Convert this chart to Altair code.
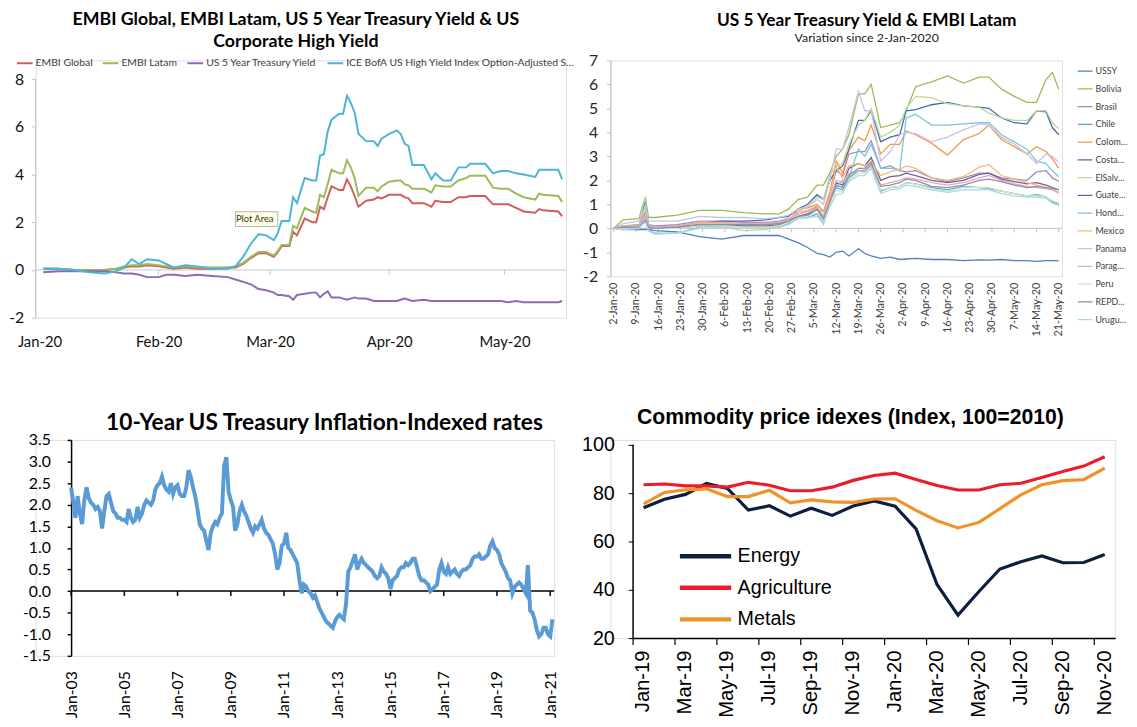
import altair as alt
import pandas as pd

DAY = 86400000


def ms(d):
    return int(pd.Timestamp(d).value // 1000000)


NO_MINUS = "replace(datum.label, '\u2212', '-')"

# ---------------- Panel 1 : EMBI / UST / HY ----------------
p1_series = ["EMBI Global", "EMBI Latam", "US 5 Year Treasury Yield",
             "ICE BofA US High Yield Index Option-Adjusted Spread"]
p1_colors = ["#d25e58", "#9bbb59", "#8c6bb8", "#4bb5d3"]
p1_days = [1, 5, 9, 13, 17, 20, 22, 24, 26, 28, 31, 33, 35, 38, 41, 45, 49, 51, 53, 55,
           57, 59, 61, 62, 63, 65, 66, 67, 69, 71, 72, 73, 74, 75, 76, 78, 79, 80, 81, 82,
           83, 85, 87, 88, 89, 91, 93, 94, 95, 96, 97, 100, 102, 103, 105, 107, 109, 111, 112, 116,
           118, 120, 122, 124, 126, 129, 130, 131, 135, 136]
p1_embi_global = [0.05, 0.05, 0.0, 0.0, 0.0, 0.05, 0.1, 0.15, 0.15, 0.2,
                  0.15, 0.1, 0.05, 0.1, 0.05, 0.05, 0.1, 0.1, 0.25, 0.5,
                  0.7, 0.7, 0.55, 0.75, 1.0, 1.0, 1.6, 1.45, 2.15, 2.0,
                  2.0, 2.65, 2.55, 3.05, 3.5, 3.35, 3.35, 3.8, 3.5, 3.1,
                  2.65, 2.9, 2.95, 3.05, 3.0, 3.15, 3.15, 3.15, 3.05, 3.0,
                  2.8, 2.8, 2.65, 2.9, 2.85, 2.85, 3.05, 3.05, 3.1, 3.1,
                  2.75, 2.75, 2.75, 2.6, 2.45, 2.4, 2.55, 2.5, 2.45, 2.25]
p1_embi_latam = [0.05, 0.05, 0.0, 0.0, 0.0, 0.05, 0.15, 0.2, 0.2, 0.25,
                 0.2, 0.15, 0.1, 0.15, 0.1, 0.1, 0.1, 0.15, 0.3, 0.55,
                 0.75, 0.75, 0.6, 0.8, 1.05, 1.05, 1.85, 1.75, 2.6, 2.45,
                 2.4, 3.15, 3.05, 3.6, 4.2, 4.05, 4.05, 4.6, 4.3, 3.85,
                 3.1, 3.45, 3.45, 3.3, 3.5, 3.7, 3.75, 3.75, 3.6, 3.55,
                 3.4, 3.4, 3.25, 3.55, 3.5, 3.5, 3.75, 3.85, 3.95, 3.95,
                 3.45, 3.4, 3.4, 3.2, 3.05, 2.95, 3.2, 3.15, 3.1, 2.85]
p1_us5y = [-0.1, -0.05, -0.05, -0.05, -0.05, -0.1, -0.15, -0.15, -0.2, -0.3,
           -0.3, -0.2, -0.2, -0.25, -0.2, -0.25, -0.3, -0.4, -0.5, -0.6,
           -0.8, -0.85, -0.95, -1.05, -1.05, -1.1, -1.25, -1.05, -1.0, -0.95,
           -0.95, -1.15, -1.0, -0.9, -1.15, -1.15, -1.2, -1.25, -1.2, -1.15,
           -1.2, -1.2, -1.3, -1.3, -1.3, -1.3, -1.3, -1.25, -1.2, -1.25,
           -1.3, -1.25, -1.3, -1.3, -1.3, -1.3, -1.3, -1.3, -1.3, -1.3,
           -1.3, -1.3, -1.35, -1.3, -1.35, -1.35, -1.35, -1.35, -1.35, -1.3]
p1_hy = [0.05, 0.05, 0.0, -0.1, -0.15, -0.05, 0.1, 0.45, 0.25, 0.45,
         0.4, 0.25, 0.1, 0.2, 0.15, 0.05, 0.05, 0.15, 0.55, 1.1,
         1.5, 1.45, 1.25, 1.55, 2.05, 2.05, 3.05, 2.8, 3.85, 3.75,
         3.75, 4.8, 4.85, 5.8, 6.3, 6.55, 6.55, 7.3, 7.0, 6.6,
         5.7, 5.4, 5.4, 5.2, 5.5, 5.7, 5.85, 5.7, 5.3, 5.2,
         4.4, 4.4, 3.8, 4.05, 3.75, 3.75, 4.3, 4.3, 4.45, 4.45,
         4.05, 4.15, 4.15, 4.05, 4.0, 3.9, 4.2, 4.2, 4.2, 3.8]
p1_label_dates = ["2020-01-01", "2020-02-01", "2020-03-01", "2020-04-01", "2020-05-01"]
p1_tick_dates = ["2020-02-01", "2020-03-01", "2020-04-01", "2020-05-01"]
p1_y_ticks = [-2, 0, 2, 4, 6, 8]
p1_note_text = "Plot Area"
p1_note_dates = ["2020-02-21", "2020-03-03", "2020-02-26"]
p1_note_vals = [1.82, 2.44, 2.13]

# ---------------- Panel 2 : EMBI Latam countries ----------------
p2_names = ["USSY", "Bolivia", "Brasil", "Chile", "Colombia", "CostaRica", "ElSalvador",
            "Guatemala", "Honduras", "Mexico", "Panama", "Paraguay", "Peru", "REPDOM", "Uruguay"]
p2_colors = ["#4f81bd", "#9bbb59", "#9b8ec2", "#4bacc6", "#f79646", "#3f6fae", "#c3d69b",
             "#7a5c94", "#7cc6dc", "#f9b77a", "#c9c3e3", "#e6a9b4", "#d7e4bd", "#8d8fae", "#a8d8e8"]
p2_days = [0, 3, 8, 9, 10, 11, 13, 20, 27, 34, 41, 48, 52, 55, 58, 61, 64, 66, 68, 70,
           72, 74, 77, 79, 81, 84, 87, 90, 92, 95, 100, 105, 110, 115, 118, 122, 126, 130, 133, 136,
           138, 140]
p2_ussy = [0, -0.05, -0.05, -0.05, -0.05, -0.05, -0.1, -0.15, -0.35, -0.45, -0.3, -0.3, -0.3, -0.45,
           -0.6, -0.8, -1.05, -1.1, -1.2, -1.0, -0.95, -1.15, -0.85, -1.05, -1.15, -1.25, -1.2, -1.3,
           -1.28, -1.25, -1.3, -1.3, -1.35, -1.32, -1.33, -1.3, -1.35, -1.35, -1.38, -1.35, -1.35, -1.36]
p2_bolivia = [0, 0.35, 0.4, 0.9, 1.25, 0.45, 0.45, 0.55, 0.75, 0.75, 0.65, 0.6, 0.6, 0.8, 1.2, 1.3,
              1.8, 1.8, 2.3, 3.0, 3.3, 3.9, 5.6, 5.6, 6.0, 4.2, 4.3, 4.4, 4.9, 5.9, 6.1, 6.35, 6.05,
              6.3, 6.3, 5.8, 5.5, 5.25, 5.25, 6.2, 6.5, 5.8]
p2_brasil = [0, 0.1, 0.15, 0.4, 0.6, 0.15, 0.1, 0.15, 0.3, 0.3, 0.25, 0.25, 0.3, 0.4, 0.6, 0.7, 0.9,
             0.2, 1.4, 2.4, 2.2, 3.1, 3.2, 3.2, 3.65, 2.5, 2.6, 2.4, 2.35, 2.4, 2.1, 1.95, 2.1, 2.3,
             2.3, 2.1, 2.05, 2.0, 2.35, 2.4, 2.1, 1.95]
p2_chile = [0, 0.0, 0.0, 0.7, 1.3, 0.05, 0.0, 0.0, 0.1, 0.15, 0.1, 0.05, 0.05, 0.2, 0.45, 0.45, 0.6,
            0.25, 1.05, 1.7, 1.6, 2.1, 2.4, 2.4, 2.65, 1.55, 1.7, 1.75, 1.9, 1.85, 1.7, 1.6, 1.75,
            1.7, 1.65, 1.55, 1.45, 1.35, 1.4, 1.3, 1.1, 1.0]
p2_colombia = [0, 0.05, 0.05, 0.4, 0.7, 0.05, 0.0, 0.05, 0.15, 0.15, 0.1, 0.1, 0.15, 0.3, 0.8, 0.85,
               1.0, 0.7, 1.5, 2.8, 2.3, 3.25, 3.8, 3.65, 4.3, 3.1, 3.5, 3.5, 4.05, 3.9, 3.55, 3.05,
               3.7, 3.95, 4.3, 3.7, 3.4, 3.1, 3.4, 3.2, 2.9, 2.5]
p2_costarica = [0, 0.05, 0.05, 0.6, 1.2, 0.1, 0.05, 0.1, 0.2, 0.3, 0.3, 0.35, 0.45, 0.5, 0.8, 1.0,
                1.4, 1.2, 2.0, 2.4, 2.6, 3.3, 4.5, 4.5, 4.9, 3.6, 3.8, 3.9, 4.9, 4.95, 5.15, 5.25,
                5.1, 5.05, 5.0, 4.6, 4.4, 4.35, 4.9, 4.85, 4.2, 3.9]
p2_elsalvador = [0, 0.1, 0.05, 0.8, 1.3, 0.1, 0.0, 0.05, 0.1, 0.05, -0.1, -0.05, 0.1, 0.3, 0.7, 0.9,
                 1.3, 1.2, 2.2, 2.6, 2.7, 3.5, 4.3, 4.5, 5.0, 3.8, 4.0, 4.3, 5.0, 5.5, 5.45, 5.2,
                 5.1, 5.05, 4.8, 4.6, 4.5, 4.5, 4.9, 4.9, 4.4, 4.15]
p2_guatemala = [0, 0.05, 0.05, 0.3, 0.5, 0.05, 0.0, 0.05, 0.15, 0.2, 0.1, 0.1, 0.15, 0.3, 0.5, 0.6,
                0.8, 0.5, 1.2, 1.9, 1.8, 2.5, 2.7, 2.6, 2.95, 2.0, 2.15, 2.2, 2.3, 2.2, 2.0, 1.9,
                2.0, 2.25, 2.3, 2.05, 1.95, 1.85, 1.9, 1.8, 1.7, 1.6]
p2_honduras = [0, -0.05, 0.0, 0.5, 1.0, -0.1, -0.2, -0.2, 0.05, 0.1, 0.05, 0.05, 0.05, 0.2, 0.4, 0.5,
               0.8, 0.7, 1.2, 1.7, 2.0, 2.1, 3.3, 3.0, 3.5, 2.5, 2.5, 2.45, 4.6, 4.75, 4.3, 4.3,
               4.35, 4.4, 4.4, 3.9, 3.6, 3.3, 2.8, 2.7, 2.4, 2.15]
p2_mexico = [0, 0.1, 0.1, 0.3, 0.5, 0.1, 0.05, 0.1, 0.2, 0.2, 0.15, 0.15, 0.2, 0.35, 0.7, 0.75, 0.95,
             0.5, 1.3, 2.6, 2.1, 2.6, 2.7, 2.6, 2.8, 2.2, 2.35, 2.45, 2.6, 2.5, 2.1, 2.0, 2.15, 2.55,
             2.65, 2.2, 2.05, 1.9, 1.8, 1.7, 1.6, 1.45]
p2_panama = [0, 0.2, 0.3, 0.6, 0.9, 0.3, 0.3, 0.3, 0.5, 0.45, 0.45, 0.4, 0.45, 0.55, 0.8, 0.9, 1.2,
             1.0, 2.0, 3.3, 3.3, 4.2, 5.7, 4.9, 4.9, 2.8, 3.2, 3.9, 4.0, 3.95, 3.6, 3.8, 4.1, 4.35,
             4.3, 3.8, 3.5, 3.1, 2.7, 3.1, 3.0, 2.75]
p2_paraguay = [0, 0.1, 0.1, 0.35, 0.55, 0.1, 0.05, 0.1, 0.25, 0.25, 0.2, 0.2, 0.25, 0.35, 0.6, 0.7,
               0.85, 0.4, 1.2, 2.0, 1.9, 2.3, 2.4, 2.35, 2.6, 1.8, 1.9, 2.0, 2.1, 2.05, 1.9, 1.8,
               1.9, 2.1, 2.2, 2.0, 1.85, 1.75, 1.7, 1.65, 1.6, 1.5]
p2_peru = [0, 0.0, 0.05, 0.2, 0.3, 0.05, 0.0, 0.0, 0.1, 0.1, 0.05, 0.05, 0.1, 0.25, 0.45, 0.5, 0.65,
           0.3, 1.0, 1.6, 1.5, 2.0, 2.3, 2.3, 2.5, 1.6, 1.7, 1.75, 1.9, 1.85, 1.65, 1.55, 1.7, 1.7,
           1.7, 1.55, 1.45, 1.35, 1.35, 1.3, 1.15, 1.05]
p2_repdom = [0, 0.05, 0.05, 0.2, 0.35, 0.05, 0.0, 0.05, 0.15, 0.15, 0.15, 0.15, 0.2, 0.3, 0.5, 0.55,
             0.8, 0.4, 1.1, 1.8, 1.7, 2.2, 2.5, 2.5, 2.75, 1.75, 1.8, 1.9, 2.05, 2.0, 1.75, 1.7,
             1.8, 2.0, 2.05, 1.95, 1.8, 1.7, 1.75, 1.7, 1.65, 1.6]
p2_uruguay = [0, -0.05, 0.0, 0.15, 0.25, -0.1, -0.25, -0.2, 0.0, 0.05, 0.0, 0.0, 0.05, 0.15, 0.4,
              0.45, 0.5, 0.2, 0.9, 1.4, 1.45, 1.95, 2.2, 2.2, 2.5, 1.45, 1.6, 1.65, 1.8, 1.75, 1.6,
              1.5, 1.6, 1.6, 1.6, 1.45, 1.35, 1.3, 1.3, 1.25, 1.05, 0.95]
p2_week_labels = ["2020-01-02", "2020-01-09", "2020-01-16", "2020-01-23", "2020-01-30",
                  "2020-02-06", "2020-02-13", "2020-02-20", "2020-02-27", "2020-03-05",
                  "2020-03-12", "2020-03-19", "2020-03-26", "2020-04-02", "2020-04-09",
                  "2020-04-16", "2020-04-23", "2020-04-30", "2020-05-07", "2020-05-14",
                  "2020-05-21"]
p2_y_ticks = [-2, -1, 0, 1, 2, 3, 4, 5, 6, 7]

# ---------------- Panel 3 : 10y TIPS (monthly, Jan-2003 .. Feb-2021) ----------------
p3_rates = [
    2.40, 2.05, 1.70, 2.20, 1.80, 1.55, 2.10, 2.40, 2.15, 2.05, 2.00, 1.90,   # 2003
    1.95, 1.85, 1.45, 1.85, 2.20, 2.25, 2.05, 1.85, 1.80, 1.70, 1.70, 1.65,   # 2004
    1.65, 1.60, 1.90, 1.70, 1.60, 1.65, 1.95, 1.70, 1.80, 2.00, 2.10, 2.05,   # 2005
    2.00, 2.10, 2.35, 2.45, 2.50, 2.65, 2.45, 2.35, 2.30, 2.50, 2.25, 2.40,   # 2006
    2.45, 2.25, 2.20, 2.20, 2.40, 2.80, 2.65, 2.40, 2.20, 1.90, 1.55, 1.45,   # 2007
    1.40, 1.15, 0.95, 1.35, 1.50, 1.60, 1.55, 1.70, 1.80, 2.90, 3.10, 2.30,   # 2008
    2.10, 1.95, 1.40, 1.55, 1.85, 2.00, 1.85, 1.75, 1.60, 1.45, 1.35, 1.50,   # 2009
    1.45, 1.55, 1.65, 1.45, 1.35, 1.30, 1.20, 1.10, 0.85, 0.50, 0.65, 1.05,   # 2010
    1.10, 1.35, 1.00, 0.95, 0.85, 0.75, 0.65, 0.25, -0.05, 0.15, 0.10, 0.00,  # 2011
    -0.05, -0.15, -0.10, -0.25, -0.40, -0.50, -0.60, -0.70, -0.75, -0.80, -0.85, -0.70,  # 2012
    -0.60, -0.55, -0.60, -0.65, -0.30, 0.45, 0.55, 0.70, 0.85, 0.50, 0.65, 0.75,  # 2013
    0.65, 0.60, 0.55, 0.50, 0.45, 0.35, 0.30, 0.35, 0.55, 0.45, 0.40, 0.30,   # 2014
    0.05, 0.25, 0.30, 0.35, 0.50, 0.55, 0.55, 0.65, 0.60, 0.65, 0.75, 0.75,   # 2015
    0.55, 0.35, 0.25, 0.25, 0.20, 0.15, 0.00, 0.05, 0.10, 0.15, 0.50, 0.65,   # 2016
    0.45, 0.40, 0.55, 0.40, 0.45, 0.50, 0.40, 0.35, 0.45, 0.50, 0.50, 0.55,   # 2017
    0.60, 0.75, 0.80, 0.80, 0.85, 0.75, 0.75, 0.80, 0.85, 1.05, 1.15, 1.00,   # 2018
    0.95, 0.85, 0.65, 0.55, 0.45, 0.30, 0.25, -0.05, 0.10, 0.15, 0.20, 0.15,  # 2019
    0.05, -0.05, 0.60, -0.45, -0.50, -0.65, -0.90, -1.05, -1.00, -0.85, -0.85, -1.00,  # 2020
    -1.05, -0.65,  # 2021
]
p3_first_month = "2003-01-01"
p3_label_dates = ["2003-01-01", "2005-01-01", "2007-01-01", "2009-01-01", "2011-01-01",
                  "2013-01-01", "2015-01-01", "2017-01-01", "2019-01-01", "2021-01-01"]
p3_y_ticks = [-1.5, -1.0, -0.5, 0.0, 0.5, 1.0, 1.5, 2.0, 2.5, 3.0, 3.5]

# ---------------- Panel 4 : Commodity price indexes ----------------
p4_months = ["Jan-19", "Feb-19", "Mar-19", "Apr-19", "May-19", "Jun-19", "Jul-19", "Aug-19",
             "Sep-19", "Oct-19", "Nov-19", "Dec-19", "Jan-20", "Feb-20", "Mar-20", "Apr-20",
             "May-20", "Jun-20", "Jul-20", "Aug-20", "Sep-20", "Oct-20", "Nov-20"]
p4_energy = [74.0, 77.5, 79.5, 84.0, 82.0, 73.0, 74.8, 70.5, 73.8, 70.8, 74.7, 76.8, 74.6, 65.2,
             42.2, 29.5, 39.3, 48.6, 51.6, 54.0, 51.2, 51.3, 54.6]
p4_agriculture = [83.5, 83.8, 83.0, 83.0, 82.5, 84.5, 83.3, 81.0, 81.0, 82.5, 85.3, 87.3, 88.3,
                  85.7, 83.2, 81.3, 81.3, 83.5, 84.1, 86.5, 89.0, 91.2, 95.1]
p4_metals = [75.6, 80.3, 81.4, 81.8, 78.6, 78.6, 81.2, 76.0, 77.2, 76.4, 76.2, 77.6, 77.7, 72.9,
             68.6, 65.6, 67.9, 73.6, 79.3, 83.5, 85.2, 85.6, 90.4]
p4_names = ["Energy", "Agriculture", "Metals"]
p4_colors = ["#0c1f3d", "#ec1c2b", "#f0922a"]
p4_y_ticks = [20, 40, 60, 80, 100]

# ======================= build panel 1 =======================
p1_start = ms("2020-01-01")
rows = []
for name, vals in zip(p1_series, [p1_embi_global, p1_embi_latam, p1_us5y, p1_hy]):
    for d, v in zip(p1_days, vals):
        rows.append({"t": p1_start + d * DAY, "v": v, "s": name})
df1 = pd.DataFrame(rows)

X1 = alt.X("t:T", scale=alt.Scale(type="utc", domain=[ms("2019-12-31"), ms("2020-05-17")]),
           axis=alt.Axis(values=[ms(d) for d in p1_label_dates], format="%b-%y", labelAngle=0,
                         labelFlush=False, labelOverlap=False, domain=False, ticks=False, grid=False,
                         labelPadding=17, labelFont="Lato", labelFontSize=15, labelColor="#111111",
                         title=None))
Y1 = alt.Y("v:Q", scale=alt.Scale(domain=[-2, 8.785], nice=False, zero=False),
           axis=alt.Axis(values=p1_y_ticks, labelExpr=NO_MINUS, domain=False, ticks=True,
                         tickColor="#bfbfbf", tickSize=4, grid=False, labelPadding=8,
                         labelFont="Lato", labelFontSize=16, labelColor="#111111", title=None))
C1 = alt.Color("s:N", scale=alt.Scale(domain=p1_series, range=p1_colors),
               legend=alt.Legend(orient="none", legendX=-20, legendY=-3, direction="horizontal",
                                 columns=4, symbolType="stroke", symbolSize=256, symbolStrokeWidth=2,
                                 clipHeight=12, labelFont="Lato", labelFontSize=10.5,
                                 labelColor="#404040", columnPadding=9, labelOffset=2,
                                 labelLimit=236, padding=0, title=None))

p1_zero = alt.Chart(pd.DataFrame({"t": [ms("2019-12-31")], "t2": [ms("2020-05-17")], "v": [0]})
                    ).mark_rule(color="#c8c8c8").encode(x=X1, x2="t2:T", y=Y1)
p1_axis = alt.Chart(pd.DataFrame({"t": [ms("2019-12-31")], "v": [-2], "v2": [8]})
                    ).mark_rule(color="#c8c8c8").encode(x=X1, y=Y1, y2="v2:Q")
p1_ticks = alt.Chart(pd.DataFrame({"t": [ms(d) for d in p1_tick_dates], "v": [0] * len(p1_tick_dates)})
                     ).mark_rule(color="#c8c8c8", y2Offset=5).encode(x=X1, y=Y1, y2="v:Q")
p1_lines = alt.Chart(df1).mark_line(strokeWidth=2).encode(x=X1, y=Y1, color=C1)
p1_box = alt.Chart(pd.DataFrame({"t": [ms(p1_note_dates[0])], "t2": [ms(p1_note_dates[1])],
                                 "v": [p1_note_vals[0]], "v2": [p1_note_vals[1]]})
                   ).mark_rect(fill="#ffffe1", stroke="#a0a0a0", strokeWidth=0.8
                               ).encode(x=X1, x2="t2:T", y=Y1, y2="v2:Q")
p1_txt = alt.Chart(pd.DataFrame({"t": [ms(p1_note_dates[2])], "v": [p1_note_vals[2]],
                                 "lab": [p1_note_text]})
                   ).mark_text(font="Lato", fontSize=9.5, color="#333333").encode(x=X1, y=Y1, text="lab:N")

p1 = alt.layer(p1_zero, p1_axis, p1_ticks, p1_lines, p1_box, p1_txt).properties(
    width=538, height=261,
    title=alt.TitleParams(["EMBI Global, EMBI Latam, US 5 Year Treasury Yield & US", "Corporate High Yield"],
                          font="Lato", fontSize=18, fontWeight="bold", lineHeight=22, color="#000000",
                          anchor="middle", frame="group", dx=-5, offset=7))

# ======================= build panel 2 =======================
p2_start = ms("2020-01-02")
rows = []
p2_vals = [p2_ussy, p2_bolivia, p2_brasil, p2_chile, p2_colombia, p2_costarica, p2_elsalvador,
           p2_guatemala, p2_honduras, p2_mexico, p2_panama, p2_paraguay, p2_peru, p2_repdom, p2_uruguay]
for name, vals in zip(p2_names, p2_vals):
    for d, v in zip(p2_days, vals):
        rows.append({"t": p2_start + d * DAY, "v": v, "s": name})
df2 = pd.DataFrame(rows)

X2 = alt.X("t:T", scale=alt.Scale(type="utc", domain=[ms("2020-01-01"), ms("2020-05-22")]),
           axis=alt.Axis(values=[ms(d) for d in p2_week_labels], format="%-d-%b-%y", labelAngle=270,
                         labelFlush=False, labelOverlap=False, domain=False, ticks=False, grid=False,
                         labelPadding=6, labelFont="Lato", labelFontSize=11, labelColor="#404040",
                         title=None))
Y2 = alt.Y("v:Q", scale=alt.Scale(domain=[-2, 7], nice=False, zero=False),
           axis=alt.Axis(values=p2_y_ticks, labelExpr=NO_MINUS, domain=True, domainColor="#bfbfbf",
                         ticks=True, tickColor="#bfbfbf", tickSize=4, grid=False, labelPadding=9,
                         labelFont="Lato", labelFontSize=16, labelColor="#262626", title=None))
C2 = alt.Color("s:N", scale=alt.Scale(domain=p2_names, range=p2_colors),
               legend=alt.Legend(orient="none", legendX=473, legendY=2, direction="vertical",
                                 symbolType="stroke", symbolSize=225, symbolStrokeWidth=1.3,
                                 clipHeight=17.9, rowPadding=0, labelFont="Lato", labelFontSize=9,
                                 labelColor="#404040", labelOffset=2, labelLimit=33, padding=0,
                                 title=None))

p2_zero = alt.Chart(pd.DataFrame({"t": [ms("2020-01-01")], "t2": [ms("2020-05-22")], "v": [0]})
                    ).mark_rule(color="#bfbfbf").encode(x=X2, x2="t2:T", y=Y2)
p2_ticks = alt.Chart(pd.DataFrame({"t": [ms(d) for d in p2_week_labels], "v": [0] * len(p2_week_labels)})
                     ).mark_rule(color="#bfbfbf", y2Offset=4).encode(x=X2, y=Y2, y2="v:Q")
p2_lines = alt.Chart(df2).mark_line(strokeWidth=1.3).encode(x=X2, y=Y2, color=C2)

p2 = alt.layer(p2_zero, p2_ticks, p2_lines).properties(
    width=458, height=219,
    title=alt.TitleParams("US 5 Year Treasury Yield & EMBI Latam", subtitle="Variation since 2-Jan-2020",
                          font="Lato", fontSize=17.5, fontWeight="bold", color="#000000",
                          subtitleFont="Lato", subtitleFontSize=12.5, subtitleColor="#222222",
                          subtitlePadding=3, anchor="middle", frame="group", dx=31, offset=8))

# ======================= build panel 3 =======================
p3_dates = pd.date_range(p3_first_month, periods=len(p3_rates), freq="MS")
df3 = pd.DataFrame({"t": [ms(d) for d in p3_dates], "v": p3_rates})

X3 = alt.X("t:T", scale=alt.Scale(type="utc", domain=[ms("2001-09-01"), ms("2021-02-25")]),
           axis=alt.Axis(values=[ms(d) for d in p3_label_dates], format="%b-%y", labelAngle=270,
                         labelFlush=False, labelOverlap=False, domain=False, ticks=False, grid=False,
                         labelPadding=15, labelFont="Lato", labelFontSize=16, labelColor="#000000",
                         title=None))
Y3 = alt.Y("v:Q", scale=alt.Scale(domain=[-1.5, 3.5], nice=False, zero=False),
           axis=alt.Axis(values=p3_y_ticks, format=".1f", labelExpr=NO_MINUS, offset=-36,
                         domain=True, domainColor="#000000", domainWidth=1.5, ticks=True,
                         tickColor="#000000", tickSize=4, tickWidth=1.5, grid=False, labelPadding=17,
                         labelFont="Lato", labelFontSize=16, labelColor="#000000", title=None))

p3_zero = alt.Chart(pd.DataFrame({"t": [ms("2003-01-01")], "t2": [ms("2021-02-25")], "v": [0]})
                    ).mark_rule(color="#000000", strokeWidth=1.5).encode(x=X3, x2="t2:T", y=Y3)
p3_ticks = alt.Chart(pd.DataFrame({"t": [ms(d) for d in p3_label_dates], "v": [0] * len(p3_label_dates)})
                     ).mark_rule(color="#000000", strokeWidth=1.5, y2Offset=5).encode(x=X3, y=Y3, y2="v:Q")
p3_line = alt.Chart(df3).mark_line(color="#5b9bd5", strokeWidth=4).encode(x=X3, y=Y3)

p3 = alt.layer(p3_zero, p3_ticks, p3_line).properties(
    width=526, height=219,
    title=alt.TitleParams("10-Year US Treasury Inflation-Indexed rates", font="Lato", fontSize=23,
                          fontWeight="bold", color="#000000", anchor="middle", frame="group",
                          dx=30, offset=-3))

# ======================= build panel 4 =======================
rows = []
for name, vals in zip(p4_names, [p4_energy, p4_agriculture, p4_metals]):
    for i, (m, v) in enumerate(zip(p4_months, vals)):
        rows.append({"m": m, "v": v, "s": name, "i": i})
df4 = pd.DataFrame(rows)

p4_scale = alt.Scale(type="band", domain=p4_months, range=[23, 512], paddingInner=0, paddingOuter=0)
p4_xaxis = alt.Axis(values=p4_months[::2], labelAngle=270, bandPosition=0.5, domain=True,
                    domainColor="#000000", domainWidth=1.5, ticks=False, grid=False, labelPadding=12,
                    labelOverlap=False, labelFont="Liberation Sans", labelFontSize=20.5,
                    labelColor="#000000", title=None)
X4 = alt.X("m:N", scale=p4_scale, sort=p4_months, bandPosition=0.5, axis=p4_xaxis)
X4b = alt.X("m:N", scale=p4_scale, sort=p4_months, bandPosition=0, axis=p4_xaxis)
Y4 = alt.Y("v:Q", scale=alt.Scale(domain=[20, 102.04], nice=False, zero=False),
           axis=alt.Axis(values=p4_y_ticks, offset=-23, domain=False, ticks=True, tickSize=5,
                         tickColor="#000000", grid=False, labelPadding=14, labelFont="Liberation Sans",
                         labelFontSize=20, labelColor="#000000", title=None))
C4 = alt.Color("s:N", scale=alt.Scale(domain=p4_names, range=p4_colors),
               legend=alt.Legend(orient="none", legendX=68, legendY=102, direction="vertical",
                                 symbolType="stroke", symbolSize=2704, symbolStrokeWidth=4.5,
                                 clipHeight=32, rowPadding=0, labelFont="Liberation Sans",
                                 labelFontSize=20, labelColor="#000000", labelOffset=4, padding=0,
                                 title=None))

p4_axis = alt.Chart(pd.DataFrame({"m": [p4_months[0]], "v": [20], "v2": [100]})
                    ).mark_rule(color="#000000", strokeWidth=1.5).encode(x=X4b, y=Y4, y2="v2:Q")
p4_ticks = alt.Chart(pd.DataFrame({"m": p4_months[::2], "v": [20] * len(p4_months[::2])})
                     ).mark_rule(color="#000000", strokeWidth=1.2, y2Offset=7).encode(x=X4b, y=Y4, y2="v:Q")
p4_lines = alt.Chart(df4).mark_line(strokeWidth=3.2).encode(x=X4, y=Y4, color=C4, order="i:Q")

p4 = alt.layer(p4_axis, p4_ticks, p4_lines).properties(
    width=512, height=201,
    title=alt.TitleParams("Commodity price idexes (Index, 100=2010)", font="Liberation Sans",
                          fontSize=21.5, fontWeight="bold", color="#000000", anchor="start",
                          frame="group", dx=27, offset=7))

# ======================= assemble =======================
chart = alt.concat(p1, p2, p3, p4, columns=2, spacing={"row": 124, "column": 45}, bounds="flush"
                   ).resolve_scale(color="independent"
                   ).resolve_legend(color="independent"
                   ).properties(padding={"left": 0, "top": -3, "right": 0, "bottom": 0}
                   ).configure_view(stroke="transparent"
                   ).configure(background="white", font="Lato")

chart.save("out.html", embed_options={"renderer": "svg", "actions": False})
